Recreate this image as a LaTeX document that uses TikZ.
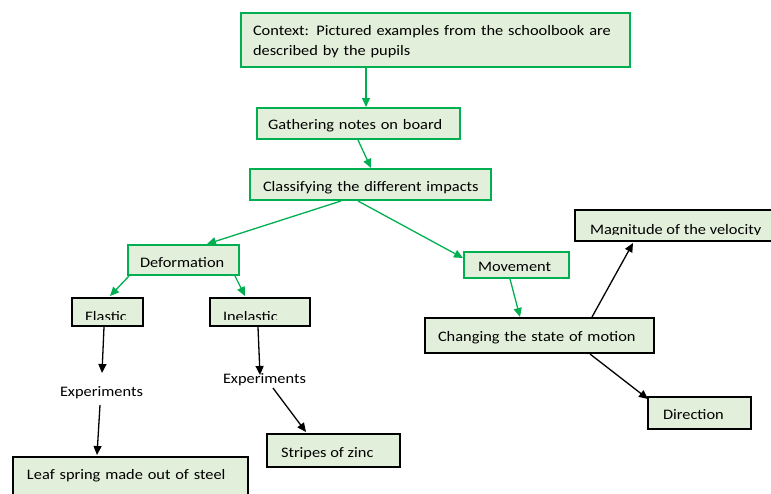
\documentclass[tikz,border=0pt]{standalone}
\usepackage{fontspec}
\setmainfont{Carlito}[FakeStretch=1.13]
\usetikzlibrary{arrows.meta,calc}
\definecolor{boxfill}{HTML}{E2EFDA}
\definecolor{boxgreen}{HTML}{00B050}
\hyphenpenalty=10000
\exhyphenpenalty=10000
\begin{document}
\begin{tikzpicture}[x=1pt,y=-1pt,
  font=\fontsize{14.5}{20}\selectfont,
  box/.style={fill=boxfill, anchor=north west, inner ysep=0pt, outer sep=0pt, align=left},
  gbox/.style={box, draw=boxgreen, line width=1.5pt},
  kbox/.style={box, draw=black, line width=2.8pt},
  garrow/.style={draw=boxgreen, line width=1.3pt, -{Triangle[length=9pt,width=8pt]}},
  karrow/.style={draw=black, line width=1.3pt, -{Triangle[length=9pt,width=8pt]}},
  plain/.style={anchor=base west, inner sep=0pt, outer sep=0pt},
]
\useasboundingbox (0,0) rectangle (771,493);

% green boxes
\node[gbox, inner xsep=12pt, text width=365pt, text height=22pt, text depth=32pt] (ctx) at (241,13)
  {Context: Pictured examples from the schoolbook are\\described by the pupils};
\node[gbox, inner xsep=11pt, text width=181pt, text height=21pt, text depth=10pt] (gath) at (257,108) {\mbox{Gathering notes on board}};
\node[gbox, inner xsep=13pt, text width=215pt, text height=22pt, text depth=9pt] (cls) at (250,169) {\mbox{Classifying the different impacts}};
\node[gbox, inner xsep=12pt, text width=87pt, text height=22pt, text depth=8pt] (def) at (128,245) {\mbox{Deformation}};
\node[gbox, inner xsep=14pt, text width=77pt, text height=19pt, text depth=7pt] (mov) at (464,252) {\mbox{Movement}};

% black boxes with full text
\node[kbox, inner xsep=13pt, text width=203pt, text height=23pt, text depth=12pt] (chg) at (425,318) {\mbox{Changing the state of motion}};
\node[kbox, inner xsep=15pt, text width=73pt, text height=22pt, text depth=10pt] (dir) at (648,397) {\mbox{Direction}};
\node[kbox, inner xsep=14pt, text width=207pt, text height=22pt, text depth=23pt] (leaf) at (13,457) {\mbox{Leaf spring made out of steel}};

% black boxes whose text is cut off at the bottom
\node[kbox, minimum width=71pt, minimum height=28pt] (el) at (72,298) {};
\node[kbox, minimum width=100pt, minimum height=28pt] (inel) at (210,298) {};
\node[kbox, minimum width=200pt, minimum height=31pt] (mag) at (575,210) {};
\node[kbox, minimum width=133pt, minimum height=33pt] (st) at (267,434) {};
\begin{scope}
  \clip (el.north west) rectangle ($(el.south east)+(0,-6.5)$);
  \node[plain] (elt) at ($(el.south west)+(13,-5)$) {Elastic};
\end{scope}
\begin{scope}
  \clip (inel.north west) rectangle ($(inel.south east)+(0,-6.5)$);
  \node[plain] (inelt) at ($(inel.south west)+(13,-5)$) {Inelastic};
\end{scope}
\begin{scope}
  \clip (mag.north west) rectangle ($(mag.south east)+(0,-6.5)$);
  \node[plain] (magt) at ($(mag.south west)+(15,-7)$) {Magnitude of the velocity};
\end{scope}
\begin{scope}
  \clip (st.north west) rectangle ($(st.south east)+(0,-9)$);
  \node[plain] (stt) at ($(st.south west)+(14,-9.5)$) {Stripes of zinc};
\end{scope}

% free labels
\node[plain] (exl) at (60,396) {Experiments};
\node[plain] (exr) at (223,383) {Experiments};

% green connectors
\draw[garrow] ($(ctx.south west)+(125,1)$) -- ($(gath.north west)+(109,-1)$);
\draw[garrow] ($(gath.south west)+(101,1)$) -- ($(cls.north west)+(121,-1)$);
\draw[garrow] ($(cls.south west)+(91,1)$) -- ($(def.north west)+(79,-1)$);
\draw[garrow] ($(cls.south west)+(108,1)$) -- ($(mov.north west)+(-1,6)$);
\draw[garrow] ($(mov.south west)+(46,1)$) -- ($(chg.north west)+(95,-1)$);
\draw[garrow] ($(def.south west)+(1,1)$) -- ($(el.north west)+(38,-2)$);
\draw[garrow] ($(def.south west)+(107,1)$) -- ($(inel.north west)+(35,-2)$);

% black connectors
\draw[karrow] ($(el.south west)+(32,1)$) -- ($(exl.base west)+(42,-23)$);
\draw[karrow] ($(exl.base west)+(40,9)$) -- ($(leaf.north west)+(84,-2)$);
\draw[karrow] ($(inel.south west)+(48,1)$) -- ($(exr.base west)+(37,-8)$);
\draw[karrow] ($(exr.base west)+(50,5)$) -- ($(st.north west)+(39,-2)$);
\draw[karrow] ($(chg.north west)+(167,-1)$) -- ($(mag.south west)+(58,2)$);
\draw[karrow] ($(chg.south west)+(165,1)$) -- ($(dir.north west)+(0,2)$);
\end{tikzpicture}
\end{document}
